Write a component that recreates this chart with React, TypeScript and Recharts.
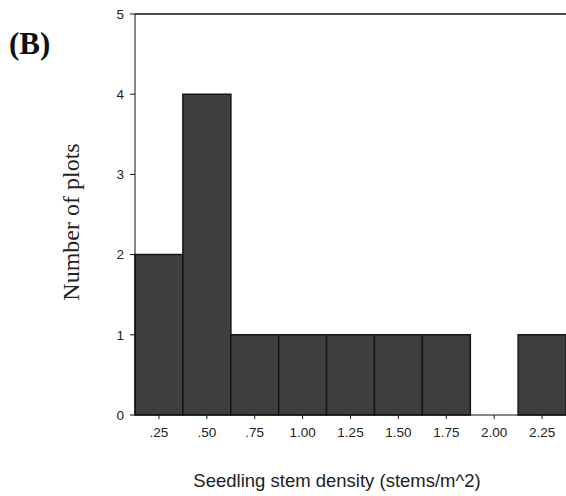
import { BarChart, Bar, XAxis, YAxis, ReferenceLine, Label } from 'recharts';

// histogram bins (stems/m^2) and plot counts
const densityBins = ['.25', '.50', '.75', '1.00', '1.25', '1.50', '1.75', '2.00', '2.25'];
const plotCounts = [2, 4, 1, 1, 1, 1, 1, 0, 1];
const countTicks = [0, 1, 2, 3, 4, 5];

const data = densityBins.map((bin, i) => ({ bin, plots: plotCounts[i] }));

const SANS = 'Arial, "Liberation Sans", Helvetica, sans-serif';
const SERIF = '"Times New Roman", "Liberation Serif", serif';

export default function App() {
    return (
        <div style={{ position: 'absolute', left: 0, top: 0, width: 566, height: 496, background: '#fff' }}>
            <div
                style={{
                    position: 'absolute',
                    left: 9,
                    top: 27,
                    fontFamily: SERIF,
                    fontWeight: 'bold',
                    fontSize: 31,
                    lineHeight: '34px',
                    color: '#111',
                }}
            >
                (B)
            </div>
            <BarChart
                width={566}
                height={496}
                data={data}
                margin={{ top: 14, right: 0, left: 0, bottom: 0 }}
                barCategoryGap={0}
            >
                <XAxis
                    dataKey="bin"
                    height={81}
                    axisLine={{ stroke: '#111' }}
                    tickLine={{ stroke: '#111' }}
                    tickSize={4}
                    tickMargin={8}
                    tick={{ fill: '#222', fontSize: 13.5, fontFamily: SANS }}
                >
                    <Label
                        content={() => (
                            <text x={337} y={487} textAnchor="middle" fill="#222" fontSize={18.5} fontFamily={SANS}>
                                Seedling stem density (stems/m^2)
                            </text>
                        )}
                    />
                </XAxis>
                <YAxis
                    width={135}
                    domain={[0, 5]}
                    ticks={countTicks}
                    interval={0}
                    axisLine={{ stroke: '#111' }}
                    tickLine={{ stroke: '#111' }}
                    tickSize={5}
                    tickMargin={6}
                    tick={{ fill: '#222', fontSize: 13.5, fontFamily: SANS }}
                >
                    <Label
                        content={() => (
                            <text
                                x={79}
                                y={222}
                                textAnchor="middle"
                                transform="rotate(-90 79 222)"
                                fill="#222"
                                fontSize={24}
                                fontFamily={SERIF}
                            >
                                Number of plots
                            </text>
                        )}
                    />
                </YAxis>
                <ReferenceLine y={5} stroke="#111" strokeWidth={1.5} />
                <Bar dataKey="plots" fill="#3e3e3e" stroke="#151515" strokeWidth={1.5} isAnimationActive={false} />
            </BarChart>
        </div>
    );
}
